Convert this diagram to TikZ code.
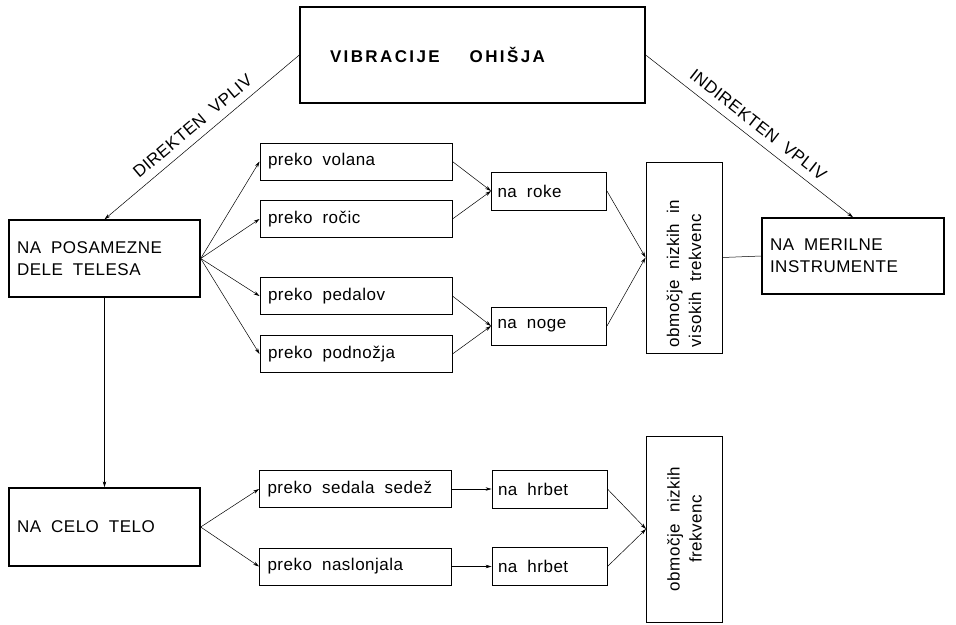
\documentclass[tikz,border=0pt]{standalone}
\usepackage{fontspec}
\setmainfont{Liberation Sans}[LetterSpace=3]
\usetikzlibrary{arrows.meta}
\newcommand{\widespace}{\spaceskip=10pt plus 2pt minus 1pt\relax}

\begin{document}
\begin{tikzpicture}[x=1pt, y=-1pt,
		font={\fontsize{17}{22}\selectfont\widespace},
		box/.style={draw, line width=0.9pt, inner ysep=2pt, align=left,
			execute at begin node=\widespace},
		bigbox/.style={box, line width=1.4pt},
		prekobox/.style={box, inner xsep=8pt, text width=176pt, minimum height=37pt},
		nabox/.style={box, inner xsep=6pt, text width=103pt, minimum height=38pt},
		vertbox/.style={box, rotate=90, inner xsep=6pt, minimum height=76pt},
		conn/.style={-{Stealth[length=6pt, width=3.5pt]}, line width=0.5pt}]
	\useasboundingbox (0,0) rectangle (956,624);
	
	% Main box
	\node[bigbox, inner xsep=30pt, text width=285pt, minimum height=96pt] (ohisje) at (472.5,55)
		{\bfseries\addfontfeature{LetterSpace=14}VIBRACIJE\hspace{30pt}OHIŠJA};
	
	% Left and right targets
	\node[bigbox, inner xsep=8pt, text width=175pt, minimum height=77pt] (posamezne) at (104.5,258.5) {NA POSAMEZNE\\DELE TELESA};
	\node[bigbox, inner xsep=8pt, text width=166pt, minimum height=76pt] (merilne) at (853,256) {NA MERILNE\\INSTRUMENTE};
	\node[bigbox, inner xsep=8pt, text width=175pt, minimum height=78pt] (celo) at (104.5,527) {NA CELO TELO};
	
	% Paths through the body
	\node[prekobox] (volana) at (356,161.5) {preko volana};
	\node[prekobox] (rocic) at (356,219) {preko ročic};
	\node[prekobox] (pedalov) at (356,296) {preko pedalov};
	\node[prekobox] (podnozja) at (356,354) {preko podnožja};
	\node[prekobox] (sedala) at (355.5,489) {preko sedala sedež};
	\node[prekobox] (naslonjala) at (355.5,566.5) {preko naslonjala};
	
	\node[nabox] (roke) at (549,191) {na roke};
	\node[nabox] (noge) at (549,326) {na noge};
	\node[nabox] (hrbetA) at (549.5,489) {na hrbet};
	\node[nabox] (hrbetB) at (549.5,566.5) {na hrbet};
	
	% Frequency ranges
	\node[vertbox, text width=179pt] (obmA) at (684,257.5) {območje nizkih in\\visokih trekvenc};
	\node[vertbox, text width=174pt, align=center] (obmB) at (684.5,529) {območje nizkih\\frekvenc};
	
	% Connectors
	\draw[conn] (ohisje.west) -- (posamezne.north)
		node[midway, above=5pt, sloped] {DIREKTEN VPLIV};
	\draw[conn] (ohisje.east) -- (merilne.north)
		node[midway, above=5pt, sloped] {INDIREKTEN VPLIV};
	\foreach \t in {volana, rocic, pedalov, podnozja}
		\draw[conn] (posamezne.east) -- (\t.west);
	\foreach \t in {sedala, naslonjala}
		\draw[conn] (celo.east) -- (\t.west);
	\draw[conn] (volana.east) -- (roke.west);
	\draw[conn] (rocic.east) -- (roke.west);
	\draw[conn] (pedalov.east) -- (noge.west);
	\draw[conn] (podnozja.east) -- (noge.west);
	\draw[conn] (sedala.east) -- (hrbetA.west);
	\draw[conn] (naslonjala.east) -- (hrbetB.west);
	\draw[conn] (roke.east) -- (obmA.north);
	\draw[conn] (noge.east) -- (obmA.north);
	\draw[conn] (hrbetA.east) -- (obmB.north);
	\draw[conn] (hrbetB.east) -- (obmB.north);
	\draw[line width=0.5pt] (obmA.south) -- (merilne.west);
	\draw[conn] (posamezne.south) -- (celo.north);
\end{tikzpicture}
\end{document}
